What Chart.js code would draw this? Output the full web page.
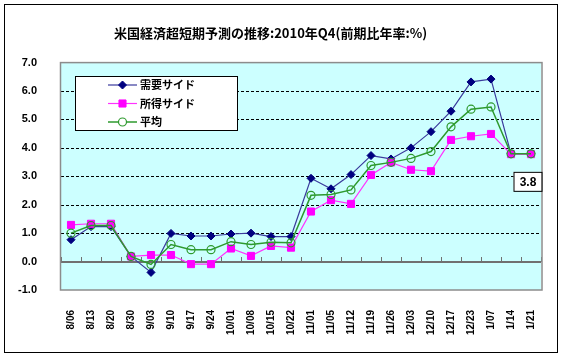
<!DOCTYPE html>
<html><head><meta charset="utf-8">
<script src="https://cdn.jsdelivr.net/npm/chart.js@4"></script>
<style>html,body{margin:0;padding:0;background:#fff}#wrap{width:564px;height:362px}</style>
</head><body><div id="wrap"><canvas id="c" width="564" height="362"></canvas></div>
<script>
const titleText = '米国経済超短期予測の推移:2010年Q4(前期比年率:%)';
const categories = ['8/06','8/13','8/20','8/30','9/03','9/10','9/17','9/24','10/01','10/08','10/15','10/22','11/01','11/05','11/12','11/19','11/26','12/03','12/10','12/17','12/23','1/07','1/14','1/21'];
const seriesNames = ['需要サイド','所得サイド','平均'];
const demandSide = [0.77,1.23,1.23,0.18,-0.38,0.99,0.90,0.90,0.97,1.00,0.88,0.88,2.93,2.56,3.06,3.73,3.61,4.00,4.57,5.29,6.32,6.42,3.79,3.79];
const incomeSide = [1.29,1.33,1.33,0.18,0.23,0.23,-0.09,-0.09,0.46,0.20,0.55,0.49,1.76,2.16,2.03,3.05,3.49,3.23,3.18,4.28,4.41,4.49,3.78,3.78];
const average    = [1.00,1.27,1.27,0.18,-0.10,0.60,0.42,0.42,0.70,0.60,0.68,0.66,2.33,2.36,2.52,3.38,3.49,3.63,3.87,4.74,5.36,5.44,3.79,3.79];
const yTicks = [-1,0,1,2,3,4,5,6,7];

const JP = '"Noto Sans CJK JP", sans-serif';
const LAT = '"Liberation Sans", Arial, sans-serif';

const decor = {
  id: 'decor',
  beforeDraw(chart) {
    const ctx = chart.ctx;
    ctx.save();
    ctx.fillStyle = '#fff';
    ctx.fillRect(0, 0, chart.width, chart.height);
    ctx.strokeStyle = '#000';
    ctx.lineWidth = 1;
    ctx.strokeRect(4.5, 4.5, 553, 348);
    ctx.restore();
  },
  beforeDatasetsDraw(chart) {
    const ctx = chart.ctx, a = chart.chartArea;
    const y = chart.scales.y, x = chart.scales.x;
    ctx.save();
    ctx.fillStyle = '#CCFFFF';
    ctx.fillRect(a.left, a.top, a.right - a.left, a.bottom - a.top);
    ctx.strokeStyle = '#000';
    ctx.lineWidth = 1;
    ctx.setLineDash([3, 2]);
    yTicks.forEach(v => {
      if (v <= 0 || v >= 7) return;
      const py = Math.round(y.getPixelForValue(v)) + 0.5;
      ctx.beginPath(); ctx.moveTo(a.left, py); ctx.lineTo(a.right, py); ctx.stroke();
    });
    ctx.setLineDash([]);
    const z = Math.round(y.getPixelForValue(0));
    ctx.strokeStyle = '#707070';
    ctx.lineWidth = 2;
    ctx.beginPath(); ctx.moveTo(a.left, z); ctx.lineTo(a.right, z); ctx.stroke();
    ctx.lineWidth = 1;
    const step = x.getPixelForValue(1) - x.getPixelForValue(0);
    for (let i = 0; i <= categories.length; i++) {
      const px = Math.round(x.getPixelForValue(0) - step / 2 + i * step) + 0.5;
      ctx.beginPath(); ctx.moveTo(px, z); ctx.lineTo(px, z - 5); ctx.stroke();
    }
    ctx.strokeStyle = '#8c8c8c';
    ctx.lineWidth = 1.5;
    ctx.strokeRect(a.left - 0.5, a.top, a.right - a.left + 1.5, a.bottom - a.top);
    ctx.restore();
  },
  afterDraw(chart) {
    const ctx = chart.ctx;
    ctx.save();
    const lx = 75.5, ly = 76.5, lw = 162, lh = 54;
    ctx.fillStyle = '#fff';
    ctx.fillRect(lx, ly, lw, lh);
    ctx.strokeStyle = '#000';
    ctx.lineWidth = 1;
    ctx.strokeRect(lx, ly, lw, lh);
    const rows = [85, 103.5, 122];
    chart.data.datasets.forEach((ds, i) => {
      const ry = rows[i];
      ctx.strokeStyle = ds.borderColor;
      ctx.lineWidth = ds.borderWidth;
      ctx.beginPath(); ctx.moveTo(108, ry); ctx.lineTo(137, ry); ctx.stroke();
      ctx.fillStyle = ds.pointStyle === 'circle' ? '#fff' : ds.pointBackgroundColor;
      ctx.strokeStyle = ds.pointBorderColor;
      ctx.lineWidth = ds.pointBorderWidth;
      Chart.helpers.drawPoint(ctx, {pointStyle: ds.pointStyle, radius: ds.pointRadius, borderWidth: ds.pointBorderWidth, rotation: 0}, 122.5, ry);
      ctx.fillStyle = '#000';
      ctx.font = 'bold 11px ' + JP;
      ctx.textBaseline = 'middle';
      ctx.textAlign = 'left';
      ctx.fillText(ds.label, 140, ry);
    });
    const meta = chart.getDatasetMeta(2);
    const pt = meta.data[meta.data.length - 1];
    const val = average[average.length - 1];
    const bx = pt.x - 17.5, by = pt.y + 18;
    ctx.fillStyle = '#fff';
    ctx.fillRect(bx, by, 28, 19);
    ctx.strokeStyle = '#000';
    ctx.lineWidth = 1;
    ctx.strokeRect(bx + 0.5, by + 0.5, 28, 19);
    ctx.fillStyle = '#000';
    ctx.font = 'bold 12px ' + LAT;
    ctx.textAlign = 'center';
    ctx.textBaseline = 'middle';
    ctx.fillText(val.toFixed(1), bx + 14.5, by + 10.5);
    ctx.restore();
  }
};

new Chart(document.getElementById('c'), {
  type: 'line',
  data: {
    labels: categories,
    datasets: [
      { label: seriesNames[0], data: demandSide, borderColor: '#3a3a9c', borderWidth: 1.2,
        pointStyle: 'rectRot', pointRadius: 4, pointBackgroundColor: '#000080', pointBorderColor: '#000080', pointBorderWidth: 1, order: 3 },
      { label: seriesNames[1], data: incomeSide, borderColor: '#FF33FF', borderWidth: 1.2,
        pointStyle: 'rect', pointRadius: 5, pointBackgroundColor: '#FF00FF', pointBorderColor: '#FF00FF', pointBorderWidth: 1, order: 2 },
      { label: seriesNames[2], data: average, borderColor: '#2e9a2e', borderWidth: 1.5,
        pointStyle: 'circle', pointRadius: 4, pointBackgroundColor: 'rgba(0,0,0,0)', pointBorderColor: '#2e9a2e', pointBorderWidth: 1.2, order: 1 }
    ]
  },
  options: {
    responsive: false,
    animation: false,
    devicePixelRatio: 1,
    layout: { padding: { left: 0, right: 23, top: 0, bottom: 0 } },
    plugins: {
      legend: { display: false },
      tooltip: { enabled: false },
      title: { display: true, text: titleText, color: '#000',
        font: { family: JP, size: 13, weight: 'bold' }, padding: { top: 25, bottom: 22 } }
    },
    scales: {
      x: {
        type: 'category', offset: true,
        grid: { display: false }, border: { display: false },
        afterFit(s) { s.height = 72; },
        ticks: { autoSkip: false, maxRotation: 90, minRotation: 90, padding: 12, color: '#000',
          font: { family: LAT, size: 10, weight: 'bold' } }
      },
      y: {
        min: -1, max: 7,
        grid: { display: false }, border: { display: false },
        afterFit(s) { s.width = 61; },
        afterBuildTicks(s) { s.ticks = yTicks.map(v => ({ value: v })); },
        ticks: { padding: 16, color: '#000', font: { family: LAT, size: 11, weight: 'bold' },
          callback: v => Number(v).toFixed(1) }
      }
    }
  },
  plugins: [decor]
});
</script>
</body></html>
